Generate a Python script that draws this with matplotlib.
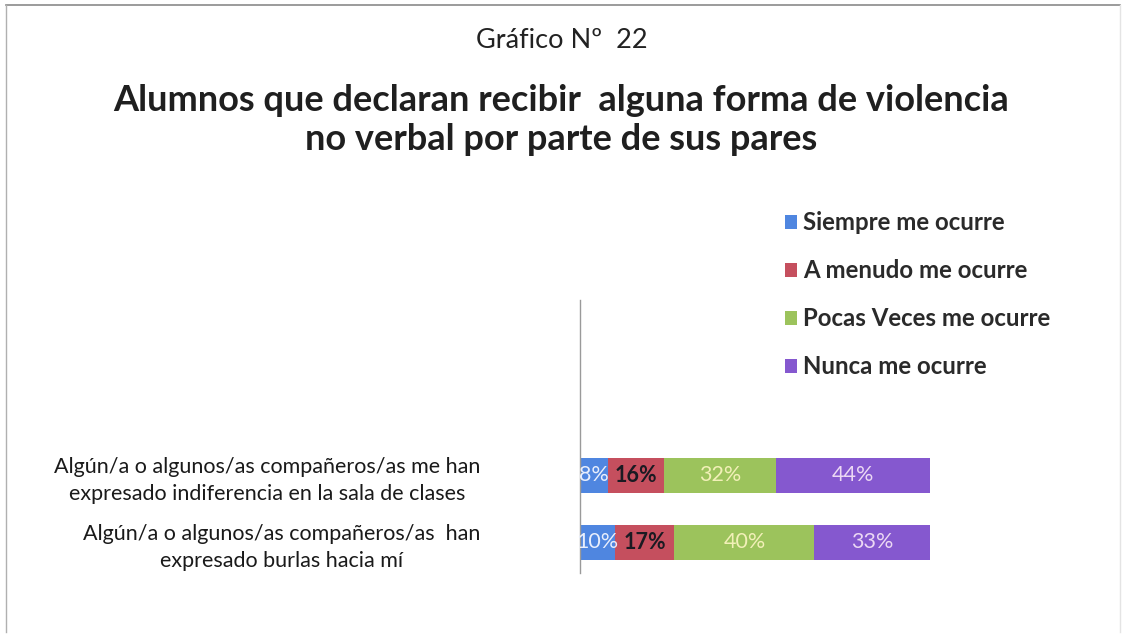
import matplotlib
matplotlib.use("Agg")
import matplotlib.pyplot as plt
from matplotlib.lines import Line2D

plt.rcParams['font.family'] = ['Lato', 'DejaVu Sans']

categories = [
    "Algún/a o algunos/as compañeros/as me han\nexpresado indiferencia en la sala de clases",
    "Algún/a o algunos/as compañeros/as  han\nexpresado burlas hacia mí",
]
series_names = ["Siempre me ocurre", "A menudo me ocurre", "Pocas Veces me ocurre", "Nunca me ocurre"]
siempre = [8, 10]
a_menudo = [16, 17]
pocas = [32, 40]
nunca = [44, 33]
series_values = [siempre, a_menudo, pocas, nunca]

colors = ["#4f86e0", "#c54f5e", "#9cc35c", "#8558cf"]
label_colors = ["#e8eefc", "#1a1a22", "#f2f0b8", "#ecd8f4"]
label_weights = ["normal", "bold", "normal", "normal"]

fig = plt.figure(figsize=(11.23, 6.37), dpi=100)
fig.patch.set_facecolor("white")

# figure frame (scanned border)
fig.add_artist(Line2D([0.005, 0.997], [0.992, 0.992], transform=fig.transFigure, color="#8a8a8a", lw=1.2))
fig.add_artist(Line2D([0.005, 0.005], [0.008, 0.992], transform=fig.transFigure, color="#b0b0b0", lw=1.0))
fig.add_artist(Line2D([0.997, 0.997], [0.008, 0.992], transform=fig.transFigure, color="#e4e4e4", lw=1.0))

ax = fig.add_axes([0.5165, 0.1005, 0.3115, 0.4285])
ypos = [1, 0]
left = [0, 0]
for name, vals, c, lc, lw in zip(series_names, series_values, colors, label_colors, label_weights):
    ax.barh(ypos, vals, left=left, height=0.52, color=c, label=name)
    for y, v, l in zip(ypos, vals, left):
        ax.text(l + v / 2, y, f"{v}%", ha="center", va="center", fontsize=15.5,
                color=lc, fontweight=lw)
    left = [a + b for a, b in zip(left, vals)]

ax.set_xlim(0, 100)
ax.set_ylim(-0.46, 3.61)
ax.set_yticks(ypos)
ax.set_yticklabels(categories, fontsize=15.5, color="#1a1a1a")
for t in ax.get_yticklabels():
    t.set_multialignment("center")
    t.set_linespacing(1.45)
ax.tick_params(axis="y", length=0, pad=72)
ax.set_xticks([])
for s in ["top", "right", "bottom"]:
    ax.spines[s].set_visible(False)
ax.spines["left"].set_color("#9a9a9a")
ax.spines["left"].set_linewidth(1.0)

fig.text(0.5, 0.937, "Gráfico Nº  22", ha="center", va="center", fontsize=19.5, color="#222222")
fig.text(0.5, 0.8116, "Alumnos que declaran recibir  alguna forma de violencia\nno verbal por parte de sus pares",
         ha="center", va="center", fontsize=26, fontweight="bold", color="#1f1f1f", linespacing=1.25)

handles, labels = ax.get_legend_handles_labels()
fig.legend(handles, labels, loc="upper left", bbox_to_anchor=(0.680, 0.702), frameon=False,
           prop={"size": 17.3, "weight": "bold"}, handlelength=0.5, handleheight=0.5, handletextpad=0.25,
           labelspacing=1.04, labelcolor="#2a2a2a")

fig.savefig("out.png", dpi=100, facecolor="white")
